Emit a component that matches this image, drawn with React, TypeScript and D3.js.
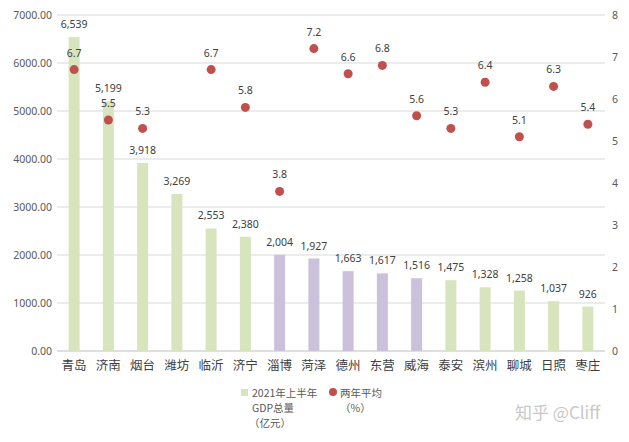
import * as d3 from 'd3';

const cities = ['青岛', '济南', '烟台', '潍坊', '临沂', '济宁', '淄博', '菏泽', '德州', '东营', '威海', '泰安', '滨州', '聊城', '日照', '枣庄'];
const gdp = [6539, 5199, 3918, 3269, 2553, 2380, 2004, 1927, 1663, 1617, 1516, 1475, 1328, 1258, 1037, 926];
const growth: (number | null)[] = [6.7, 5.5, 5.3, null, 6.7, 5.8, 3.8, 7.2, 6.6, 6.8, 5.6, 5.3, 6.4, 5.1, 6.3, 5.4];
const purpleCities = ['淄博', '菏泽', '德州', '东营', '威海'];
const leftTicks = [0, 1000, 2000, 3000, 4000, 5000, 6000, 7000];
const rightTicks = [0, 1, 2, 3, 4, 5, 6, 7, 8];

const W = 629;
const H = 442;
const margin = { left: 57, right: 24, top: 15, bottom: 91 };

export default function App() {
  const x = d3.scaleBand<string>().domain(cities).range([margin.left, W - margin.right]);
  const yL = d3.scaleLinear().domain([0, 7000]).range([H - margin.bottom, margin.top]);
  const yR = d3.scaleLinear().domain([0, 8]).range([H - margin.bottom, margin.top]);
  const barW = 11;
  const numFont = '"Noto Sans", sans-serif';
  const cjkFont = '"Noto Sans CJK SC", sans-serif';
  const fmt = d3.format(',');

  return (
    <svg width={W} height={H} style={{ position: 'absolute', left: 0, top: 0, background: '#fff' }}>
      {leftTicks.map((t) => (
        <g key={'l' + t}>
          <line x1={margin.left} x2={W - margin.right} y1={yL(t)} y2={yL(t)} stroke={t === 0 ? '#bfbfbf' : '#d9d9d9'} />
          <text x={52} y={yL(t)} dy="0.35em" textAnchor="end" fontSize={10.5} fill="#595959" fontFamily={numFont}>
            {d3.format('.2f')(t)}
          </text>
        </g>
      ))}
      {rightTicks.map((t) => (
        <text key={'r' + t} x={612} y={yR(t)} dy="0.35em" fontSize={10.5} fill="#595959" fontFamily={numFont}>
          {t}
        </text>
      ))}
      {cities.map((c, i) => {
        const cx = (x(c) as number) + x.bandwidth() / 2;
        const g = growth[i];
        return (
          <g key={c}>
            <rect x={cx - barW / 2} width={barW} y={yL(gdp[i])} height={yL(0) - yL(gdp[i])}
              fill={purpleCities.includes(c) ? '#ccc1da' : '#d7e4bd'} />
            <text x={cx} y={yL(gdp[i]) - 9} textAnchor="middle" fontSize={10.5} fill="#404040" fontFamily={numFont}>
              {fmt(gdp[i])}
            </text>
            {g !== null && (
              <>
                <circle cx={cx} cy={yR(g)} r={4.5} fill="#c0504d" />
                <text x={cx} y={yR(g) - 13} textAnchor="middle" fontSize={10.5} fill="#404040" fontFamily={numFont}>
                  {g.toFixed(1)}
                </text>
              </>
            )}
            <text x={cx} y={366} dy="0.35em" textAnchor="middle" fontSize={12.5} fill="#404040" fontFamily={cjkFont}>
              {c}
            </text>
          </g>
        );
      })}
      <rect x={241} y={389} width={7} height={7} fill="#d7e4bd" />
      <text x={252} y={397} fontSize={10.5} fill="#595959" fontFamily={cjkFont}>2021年上半年</text>
      <text x={252} y={412} fontSize={10.5} fill="#595959" fontFamily={cjkFont}>GDP总量</text>
      <text x={249} y={427} fontSize={10.5} fill="#595959" fontFamily={cjkFont}>（亿元）</text>
      <circle cx={333} cy={392} r={4} fill="#c0504d" />
      <text x={340} y={397} fontSize={10.5} fill="#595959" fontFamily={cjkFont}>两年平均</text>
      <text x={340} y={412} fontSize={10.5} fill="#595959" fontFamily={cjkFont}>（%）</text>
      <text x={515} y={419} fontSize={17} fill="#c8c8c8" fontFamily={cjkFont}>知乎 @Cliff</text>
    </svg>
  );
}
